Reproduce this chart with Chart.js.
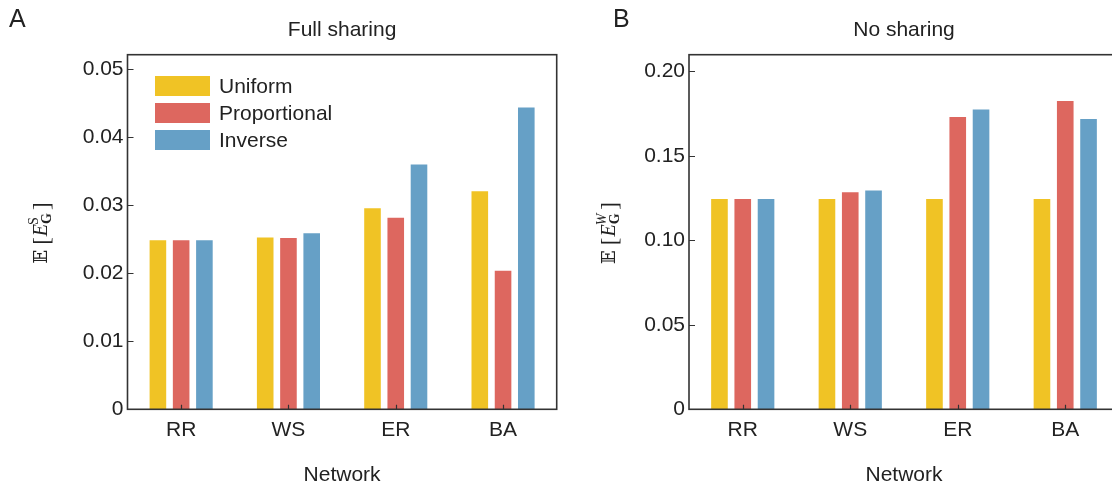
<!DOCTYPE html>
<html>
<head>
<meta charset="utf-8">
<script src="https://cdn.jsdelivr.net/npm/chart.js@4.4.1/dist/chart.umd.min.js"></script>
<style>
  html, body { margin: 0; padding: 0; background: #fff; overflow: hidden; }
  body { width: 1112px; height: 491px; position: relative; font-family: 'Liberation Sans', Arial, sans-serif; }
  .panel { position: absolute; top: 0; height: 491px; }
  #panelA { left: 0; width: 560px; }
  #panelB { left: 560px; width: 566px; }
  .legend { position: absolute; left: 155px; top: 72.5px; font-size: 21px; color: #222; }
  .legend .row { display: flex; align-items: center; height: 27px; }
  .legend .sw { width: 55px; height: 20px; margin-right: 9px; }
</style>
</head>
<body>
<div class="panel" id="panelA"><canvas id="chartA" width="560" height="491"></canvas></div>
<div class="panel" id="panelB"><canvas id="chartB" width="566" height="491"></canvas></div>
<div class="legend" id="legendA"></div>
<script>
// ---- data ----
const networks = ['RR', 'WS', 'ER', 'BA'];
const schemes = ['Uniform', 'Proportional', 'Inverse'];

// panel A: full sharing, E[E_G^S]
const fullUniform      = [0.0250, 0.0254, 0.0297, 0.0322];
const fullProportional = [0.0250, 0.0253, 0.0283, 0.0205];
const fullInverse      = [0.0250, 0.0260, 0.0361, 0.0445];
const fullTickValues   = [0, 0.01, 0.02, 0.03, 0.04, 0.05];
const fullTickLabels   = ['0', '0.01', '0.02', '0.03', '0.04', '0.05'];

// panel B: no sharing, E[E_G^W]
const noUniform      = [0.125, 0.125, 0.125, 0.125];
const noProportional = [0.125, 0.129, 0.1735, 0.183];
const noInverse      = [0.125, 0.130, 0.178, 0.1723];
const noTickValues   = [0, 0.05, 0.10, 0.15, 0.20];
const noTickLabels   = ['0', '0.05', '0.10', '0.15', '0.20'];

// ---- styling ----
const COLORS = ['#F0C325', '#DD675F', '#66A0C6'];
const TEXT = '#222';
const AXIS = '#333';
const FONT = "'Liberation Sans', Arial, sans-serif";

// legend (html, built from the series names)
const legendEl = document.getElementById('legendA');
schemes.forEach((name, i) => {
    const row = document.createElement('div');
    row.className = 'row';
    const sw = document.createElement('div');
    sw.className = 'sw';
    sw.style.background = COLORS[i];
    const label = document.createElement('span');
    label.textContent = name;
    row.appendChild(sw);
    row.appendChild(label);
    legendEl.appendChild(row);
});

// draws E[E_G^X] rotated, like the mathematica label
function drawMathLabel(ctx, cx, cy, sup, supItalic) {
    const pieces = [
        { t: '\u{1D53C}', f: "18px 'DejaVu Serif', 'DejaVu Sans'", dy: 0 },
        { gap: 5 },
        { t: '[', f: "23px 'Liberation Serif'", dy: 2 },
        { gap: 1 },
        { t: 'E', f: "italic 20px 'Liberation Serif'", dy: 0 },
        { sup: sup, supF: (supItalic ? 'italic ' : '') + "14px 'Liberation Serif'", sub: 'G', subF: "bold 14px 'Liberation Serif'" },
        { gap: 2 },
        { t: ']', f: "23px 'Liberation Serif'", dy: 2 },
    ];
    ctx.save();
    let total = 0;
    const widths = pieces.map(p => {
        let w;
        if (p.gap) w = p.gap;
        else if (p.sup) {
            ctx.font = p.supF; const a = ctx.measureText(p.sup).width;
            ctx.font = p.subF; const b = ctx.measureText(p.sub).width;
            w = Math.max(a, b) + 1;
        } else { ctx.font = p.f; w = ctx.measureText(p.t).width; }
        total += w;
        return w;
    });
    ctx.translate(cx, cy);
    ctx.rotate(-Math.PI / 2);
    ctx.fillStyle = TEXT;
    ctx.textBaseline = 'alphabetic';
    ctx.textAlign = 'left';
    let x = -total / 2;
    const base = 7;
    pieces.forEach((p, i) => {
        if (p.sup) {
            ctx.font = p.supF; ctx.fillText(p.sup, x - 1, base - 9);
            ctx.font = p.subF; ctx.fillText(p.sub, x, base + 4);
        } else if (p.t) {
            ctx.font = p.f; ctx.fillText(p.t, x, base + p.dy);
        }
        x += widths[i];
    });
    ctx.restore();
}

// frame, inward ticks, panel letter and y label
const panelDecor = {
    id: 'panelDecor',
    afterDraw(chart, args, opts) {
        const { ctx, chartArea: a, scales: { x, y } } = chart;
        ctx.save();
        ctx.strokeStyle = AXIS;
        ctx.lineWidth = 1.2;
        ctx.beginPath();
        y.ticks.forEach(t => {
            const py = Math.round(y.getPixelForValue(t.value)) + 0.5;
            ctx.moveTo(a.left, py); ctx.lineTo(a.left + 6, py);
        });
        x.ticks.forEach((t, i) => {
            const px = Math.round(x.getPixelForTick(i)) + 0.5;
            ctx.moveTo(px, a.bottom); ctx.lineTo(px, a.bottom - 4.5);
        });
        ctx.stroke();
        ctx.lineWidth = 1.6;
        ctx.strokeRect(a.left, a.top, a.right - a.left, a.bottom - a.top);

        ctx.fillStyle = TEXT;
        ctx.font = '25px ' + FONT;
        ctx.textBaseline = 'alphabetic';
        ctx.fillText(opts.letter, opts.letterX, 27);
        ctx.restore();

        drawMathLabel(ctx, opts.labelX, 233, opts.sup, opts.supItalic);
    }
};

function makeDatasets(series) {
    return series.map((data, i) => ({
        label: schemes[i],
        data,
        backgroundColor: COLORS[i],
        borderColor: 'rgba(255,255,255,0.35)',
        borderWidth: 1,
        categoryPercentage: 0.65,
        barPercentage: 0.8,
    }));
}

function makeChart(canvasId, opts) {
    const ctx = document.getElementById(canvasId).getContext('2d');
    return new Chart(ctx, {
        type: 'bar',
        data: { labels: networks, datasets: makeDatasets(opts.series) },
        options: {
            responsive: false,
            animation: false,
            layout: { padding: { left: 0, right: opts.padRight, top: 0, bottom: 0 } },
            plugins: {
                legend: { display: false },
                tooltip: { enabled: false },
                title: {
                    display: true, text: opts.title, fullSize: false, color: TEXT,
                    font: { family: FONT, size: 21, weight: 'normal' },
                    padding: { top: 18, bottom: 11.5 },
                },
                panelDecor: opts.decor,
            },
            scales: {
                x: {
                    grid: { display: false, drawTicks: false },
                    border: { display: false },
                    ticks: { color: TEXT, padding: 8, font: { family: FONT, size: 21 } },
                    title: {
                        display: true, text: 'Network', color: TEXT,
                        font: { family: FONT, size: 21 },
                        padding: { top: 0, bottom: 3 },
                    },
                    afterFit: s => { s.height = 81.7; },
                },
                y: {
                    min: 0, max: opts.yMax,
                    grid: { display: false, drawTicks: false },
                    border: { display: false },
                    afterBuildTicks: s => { s.ticks = opts.tickValues.map(v => ({ value: v })); },
                    ticks: {
                        color: TEXT, padding: 4, font: { family: FONT, size: 21 },
                        callback: (v, i) => opts.tickLabels[i],
                    },
                    afterFit: s => { s.width = opts.axisWidth; },
                },
            },
        },
        plugins: [panelDecor],
    });
}

makeChart('chartA', {
    series: [fullUniform, fullProportional, fullInverse],
    title: 'Full sharing',
    yMax: 0.0521,
    tickValues: fullTickValues,
    tickLabels: fullTickLabels,
    axisWidth: 127.5,
    padRight: 3.3,
    decor: { letter: 'A', letterX: 9, labelX: 40, sup: 'S', supItalic: false },
});

makeChart('chartB', {
    series: [noUniform, noProportional, noInverse],
    title: 'No sharing',
    yMax: 0.2098,
    tickValues: noTickValues,
    tickLabels: noTickLabels,
    axisWidth: 129,
    padRight: 7,
    decor: { letter: 'B', letterX: 53, labelX: 48, sup: 'W', supItalic: true },
});
</script>
</body>
</html>
